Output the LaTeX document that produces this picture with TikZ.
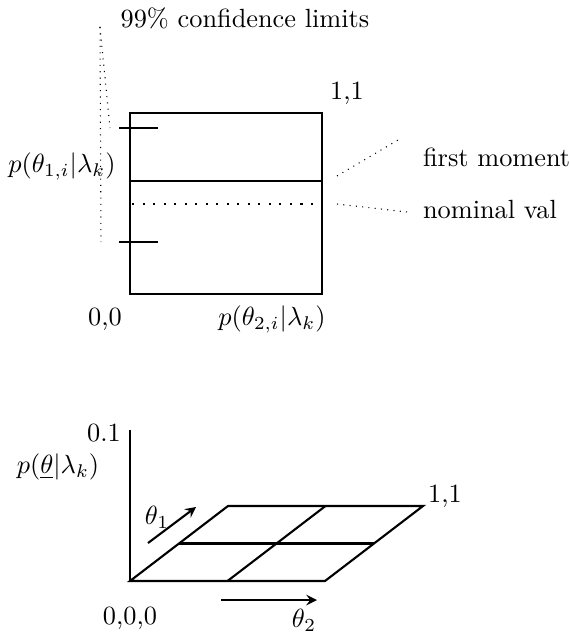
\documentclass[tikz,border=0pt]{standalone}
\usepackage{amsmath}
\usetikzlibrary{calc}

\begin{document}
\begin{tikzpicture}[x=0.38pt, y=-0.38pt, thick]
  \useasboundingbox (0,0) rectangle (570,635);
  \tikzset{
    lead/.style={thin, dotted},
    lbl/.style={inner sep=0pt}
  }

  % marginal density p(theta_1) x p(theta_2)
  \coordinate (B) at (130, 294);
  \coordinate (C) at (322, 294);
  \coordinate (A) at (130, 113);
  \coordinate (D) at (322, 113);

  \draw (A) -- (B) -- (C) -- (D) -- cycle;
  \draw (130, 181) coordinate (M1) -- (322, 181) coordinate (M2);
  \draw[dash pattern=on 0.8pt off 3.2pt] (132, 204) coordinate (N1) -- (322, 204) coordinate (N2);
  \draw (119, 128) coordinate (U) -- (158, 128);
  \draw (119, 242) coordinate (W) -- (158, 242);

  \node[lbl] (conf) at (245, 18) {$99\%$ confidence limits};
  \node[lbl] (tr)   at (347, 93) {1,1};
  \node[lbl] (py1)  at (62, 166) {$p(\theta_{1,i}|\lambda_k)$};
  \node[lbl] (org)  at (105, 319) {0,0};
  \node[lbl] (py2)  at (272, 319) {$p(\theta_{2,i}|\lambda_k)$};
  \node[lbl, anchor=west] (mom) at (422, 157) {first moment};
  \node[lbl, anchor=west] (nom) at (422, 210) {nominal val};

  \coordinate (c0) at (100, 27);
  \draw[lead] (c0) -- ($(U)+(-9,0)$);
  \draw[lead] (c0) -- ($(W)+(-18,0)$);
  \draw[lead] (337, 176) -- (398, 140);
  \draw[lead] (337, 204) -- (407, 212);

  % joint density over theta_1, theta_2
  \coordinate (O) at (130, 581);
  \coordinate (R) at (325, 581);
  \coordinate (L) at (228, 506);
  \coordinate (T) at (423, 506);
  \coordinate (Z) at (130, 430);

  \draw (Z) -- (O);
  \draw (O) -- (R) -- (T) -- (L) -- cycle;
  \draw ($(O)!0.5!(L)$) -- ($(R)!0.5!(T)$);
  \draw ($(O)!0.5!(R)$) -- ($(L)!0.5!(T)$);

  \draw[-stealth] (148, 543) coordinate (a1) -- (196, 507) coordinate (a2);
  \draw[-stealth] (221, 600) coordinate (b1) -- (317, 600) coordinate (b2);

  \node[lbl] (zmax) at (104, 433) {0.1};
  \node[lbl] (pj)   at (58, 467) {$p(\underline{\theta}|\lambda_k)$};
  \node[lbl] (tr2)  at (445, 496) {1,1};
  \node[lbl] (t1)   at (157, 517) {$\theta_1$};
  \node[lbl] (t2)   at (304, 620) {$\theta_2$};
  \node[lbl] (org2) at (130, 618) {0,0,0};
\end{tikzpicture}
\end{document}
